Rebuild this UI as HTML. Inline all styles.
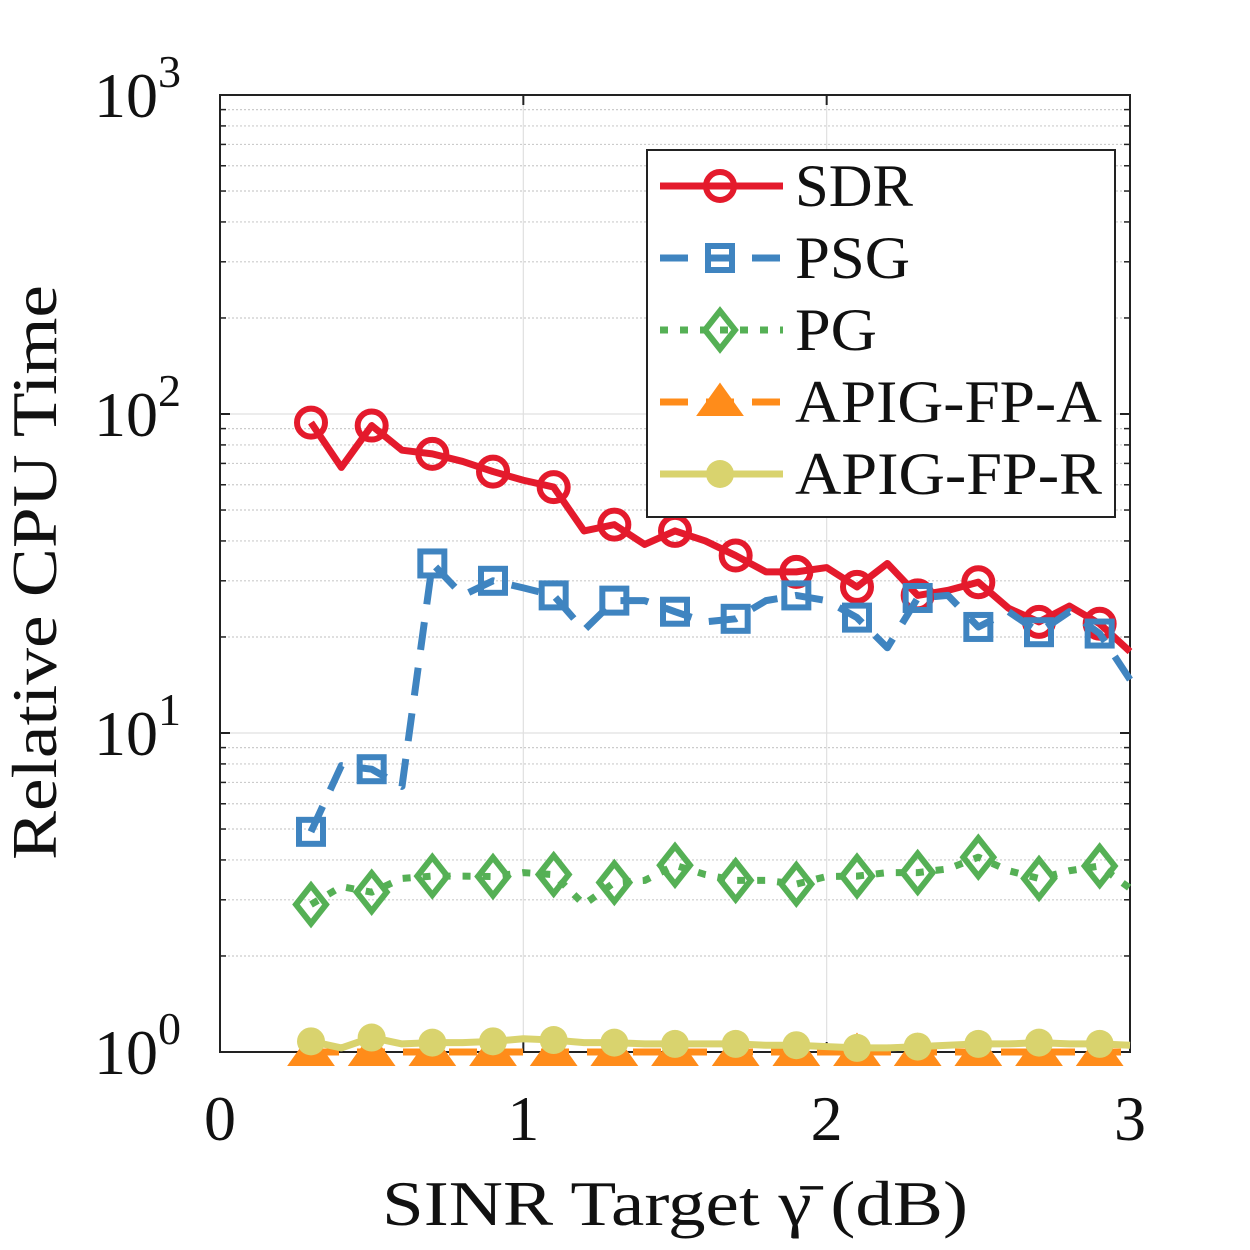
<!DOCTYPE html>
<html><head><meta charset="utf-8"><style>
body{margin:0;background:#fff}
svg{display:block;font-family:"Liberation Serif",serif}
</style></head><body>
<svg id="c" width="1250" height="1250" viewBox="0 0 1250 1250"></svg>
<script>
const xs=[0.3,0.4,0.5,0.6,0.7,0.8,0.9,1.0,1.1,1.2,1.3,1.4,1.5,1.6,1.7,1.8,1.9,2.0,2.1,2.2,2.3,2.4,2.5,2.6,2.7,2.8,2.9,3.0];
const sdr=[94,68,92,77,75,71,66,62,59,43,45,39,43,40,36,32,32,33,28.7,34,27,28,29.7,24.6,22.3,25,22,18];
const psg=[4.9,7.9,7.7,6.8,34,27,30,28.5,27,21,26,26,24,22.3,22.8,26,27,26,23,18.5,26.5,27,21.5,24,20.7,24,20.5,14.7];
const pg=[2.9,3.3,3.17,3.5,3.56,3.56,3.55,3.65,3.6,2.9,3.4,3.45,3.85,3.6,3.45,3.45,3.36,3.55,3.56,3.65,3.65,3.75,4.08,3.7,3.5,3.7,3.83,3.26];
const apA=[1.0,1.0,1.0,1.0,1.0,1.0,1.0,1.0,1.0,1.0,1.0,1.0,1.0,1.0,1.0,1.0,1.0,1.0,1.0,1.0,1.0,1.0,1.0,1.0,1.0,1.0,1.0,1.0];
const apR=[1.08,1.03,1.11,1.06,1.07,1.07,1.08,1.1,1.09,1.07,1.07,1.06,1.06,1.06,1.06,1.05,1.05,1.04,1.03,1.03,1.04,1.05,1.06,1.06,1.07,1.06,1.06,1.05];
const xTicks=[0,1,2,3];
const yTicks=[0,1,2,3];
const legendLabels=["SDR","PSG","PG","APIG-FP-A","APIG-FP-R"];

const NS="http://www.w3.org/2000/svg",svg=document.getElementById('c');
const X0=220,X1=1130,Y0=1052,Y1=95;
const sx=v=>X0+(v-0)/3*(X1-X0);
const sy=v=>Y0-Math.log10(v)/3*(Y0-Y1);
function mk(t,a,p){const e=document.createElementNS(NS,t);for(const k in a)e.setAttribute(k,a[k]);(p||svg).appendChild(e);return e;}

for(let d=0;d<3;d++)for(let m=2;m<=9;m++){const y=sy(m*Math.pow(10,d));
 const g=mk('line',{x1:X0,x2:X1,y1:y,y2:y,stroke:'#ccc','stroke-width':1.2,'stroke-dasharray':'2,2'});
 
 }
for(const t of yTicks){const y=sy(Math.pow(10,t));const g=mk('line',{x1:X0,x2:X1,y1:y,y2:y,stroke:'#e0e0e0','stroke-width':1.2});
 
 }
for(const t of xTicks){const x=sx(t);const g=mk('line',{x1:x,x2:x,y1:Y1,y2:Y0,stroke:'#e0e0e0','stroke-width':1.2});
 
 }
const box=mk('rect',{x:X0,y:Y1,width:X1-X0,height:Y0-Y1,fill:'none',stroke:'#222','stroke-width':2});


for(const t of xTicks){const x=sx(t);
 mk('line',{x1:x,x2:x,y1:Y0,y2:Y0-10,stroke:'#222','stroke-width':2});
 mk('line',{x1:x,x2:x,y1:Y1,y2:Y1+10,stroke:'#222','stroke-width':2});
 const tx=mk('text',{x:x,y:1140,'font-size':64,'text-anchor':'middle',fill:'#111'});tx.textContent=t;
 
 }
for(const t of yTicks){const y=sy(Math.pow(10,t));
 mk('line',{x1:X0,x2:X0+10,y1:y,y2:y,stroke:'#222','stroke-width':2});
 mk('line',{x1:X1,x2:X1-10,y1:y,y2:y,stroke:'#222','stroke-width':2});
 const tx=mk('text',{x:94,y:y+22,'font-size':64,fill:'#111'});tx.textContent='10';
 const s=mk('tspan',{dy:-30,'font-size':46},tx);s.textContent=t;
 
 }
for(let d=0;d<3;d++)for(let m=2;m<=9;m++){const y=sy(m*Math.pow(10,d));
 mk('line',{x1:X0,x2:X0+6,y1:y,y2:y,stroke:'#222','stroke-width':1.5});
 mk('line',{x1:X1,x2:X1-6,y1:y,y2:y,stroke:'#222','stroke-width':1.5});}
let t=mk('text',{x:382,y:1225,'font-size':64,fill:'#111',textLength:586,lengthAdjust:'spacingAndGlyphs'});t.textContent='SINR Target γ̄ (dB)';

t=mk('text',{x:0,y:0,'font-size':64,fill:'#111',transform:'translate(56,860) rotate(-90)',textLength:575,lengthAdjust:'spacingAndGlyphs'});t.textContent='Relative CPU Time';


function marker(type,x,y,c,g){
 if(type==='o')return mk('circle',{cx:x,cy:y,r:14,fill:'none',stroke:c,'stroke-width':6},g);
 if(type==='s')return mk('rect',{x:x-12,y:y-12,width:24,height:24,fill:'none',stroke:c,'stroke-width':6},g);
 if(type==='d')return mk('polygon',{points:`${x},${y-19} ${x+15},${y} ${x},${y+19} ${x-15},${y}`,fill:'none',stroke:c,'stroke-width':6},g);
 if(type==='^')return mk('polygon',{points:`${x},${y-16} ${x+20},${y+12} ${x-20},${y+12}`,fill:c,stroke:c,'stroke-width':4},g);
 return mk('circle',{cx:x,cy:y,r:14,fill:c},g);
}
const series=[
 {d:sdr,c:'#e41a2c',dash:'',m:'o',n:'sdr'},
 {d:psg,c:'#3f84c0',dash:'28,18',m:'s',n:'psg'},
 {d:pg,c:'#55b055',dash:'8,12',m:'d',n:'pg'},
 {d:apA,c:'#ff8c1a',dash:'28,18',m:'^',n:'apig-fp-a'},
 {d:apR,c:'#d9d36e',dash:'',m:'*',n:'apig-fp-r'}];
for(const s of series){
 const g=mk('g',{});
 
 
 const pts=s.d.map((v,i)=>sx(xs[i])+','+sy(v)).join(' ');
 mk('polyline',{points:pts,fill:'none',stroke:s.c,'stroke-width':7,'stroke-dasharray':s.dash,'stroke-linejoin':'round'},g);
 s.d.forEach((v,i)=>{if(i%2===0){const e=marker(s.m,sx(xs[i]),sy(v),s.c,g);
  
  }});
}
const lg=mk('g',{});


mk('rect',{x:647,y:150,width:468,height:367,fill:'#fff',stroke:'#222','stroke-width':2},lg);
const lw=[118,115,82,307,307];
series.forEach((s,i)=>{const y=186+i*72;
 const e=mk('g',{},lg);
 
 
 mk('line',{x1:660,x2:783,y1:y,y2:y,stroke:s.c,'stroke-width':7,'stroke-dasharray':s.dash},e);
 marker(s.m,720,y,s.c,e);
 const tx=mk('text',{x:795,y:y+20,'font-size':60,fill:'#111',textLength:lw[i],lengthAdjust:'spacingAndGlyphs'},e);tx.textContent=legendLabels[i];});
</script>
</body></html>
